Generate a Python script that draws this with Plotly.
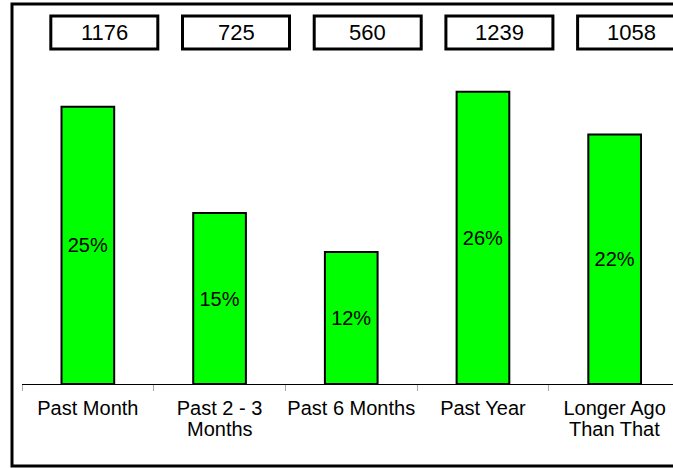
import plotly.graph_objects as go

categories = ["Past Month", "Past 2 - 3", "Past 6 Months", "Past Year", "Longer Ago"]
categories_line2 = ["", "Months", "", "", "Than That"]
counts = [1176, 725, 560, 1239, 1058]
percent_labels = ["25%", "15%", "12%", "26%", "22%"]

FONT = "Liberation Sans, Arial, sans-serif"
W, H = 673, 468
ML, MB, MT = 22, 84, 0
plot_w = W - ML
plot_h = H - MB - MT
cat_px = 131.7
x_max = -0.5 + plot_w / cat_px
y_max = plot_h / 0.2358

fig = go.Figure()
fig.add_trace(go.Bar(
    x=categories,
    y=counts,
    text=percent_labels,
    textposition="inside",
    insidetextanchor="middle",
    textfont=dict(family=FONT, size=20, color="black"),
    marker=dict(color="#00FF00", line=dict(color="black", width=2)),
    width=0.40,
    hoverinfo="skip",
))

shapes = []
annotations = []
# outer frame (right side runs past the window)
shapes.append(dict(type="rect", xref="paper", yref="paper",
                   x0=(12 - ML) / plot_w, x1=1.3,
                   y0=(plot_h - 466) / plot_h, y1=(plot_h - 4) / plot_h,
                   line=dict(color="black", width=3), fillcolor="rgba(0,0,0,0)", layer="below"))

box_off = 0.125
box_w = 107 / cat_px
for i, c in enumerate(counts):
    xc = i + box_off
    shapes.append(dict(type="rect", xref="x", yref="paper",
                       x0=xc - box_w / 2, x1=xc + box_w / 2,
                       y0=(plot_h - 49) / plot_h, y1=(plot_h - 16) / plot_h,
                       line=dict(color="black", width=3), fillcolor="white"))
    annotations.append(dict(x=xc, y=(plot_h - 32.5) / plot_h, xref="x", yref="paper",
                            text=str(c), showarrow=False,
                            font=dict(family=FONT, size=22, color="black"),
                            xanchor="center", yanchor="middle"))

# second lines of category labels (tighter line spacing than Plotly's default)
for i, t in enumerate(categories_line2):
    if t:
        annotations.append(dict(x=i, y=(plot_h - 437) / plot_h, xref="x", yref="paper",
                                text=t, showarrow=False,
                                font=dict(family=FONT, size=20, color="black"),
                                xanchor="center", yanchor="bottom", yshift=-5))

fig.update_layout(
    width=W, height=H,
    margin=dict(l=ML, r=0, t=MT, b=MB, pad=0, autoexpand=False),
    paper_bgcolor="white", plot_bgcolor="white",
    showlegend=False,
    bargap=0.6,
    shapes=shapes,
    annotations=annotations,
    xaxis=dict(
        type="category",
        range=[-0.5, x_max],
        tickangle=0, automargin=False, ticklabelstandoff=6,
        showline=True, linecolor="black", linewidth=1,
        ticks="outside", tickson="boundaries", ticklen=6, tickcolor="#aaaaaa", tickwidth=1,
        showgrid=False, zeroline=False,
        tickfont=dict(family=FONT, size=20, color="black"),
        fixedrange=True,
    ),
    yaxis=dict(range=[0, y_max], visible=False, showgrid=False, zeroline=False, fixedrange=True),
)

fig.write_html("out.html", config={"displayModeBar": False},
               post_script="document.body.style.margin='0';document.body.style.overflow='hidden';")
